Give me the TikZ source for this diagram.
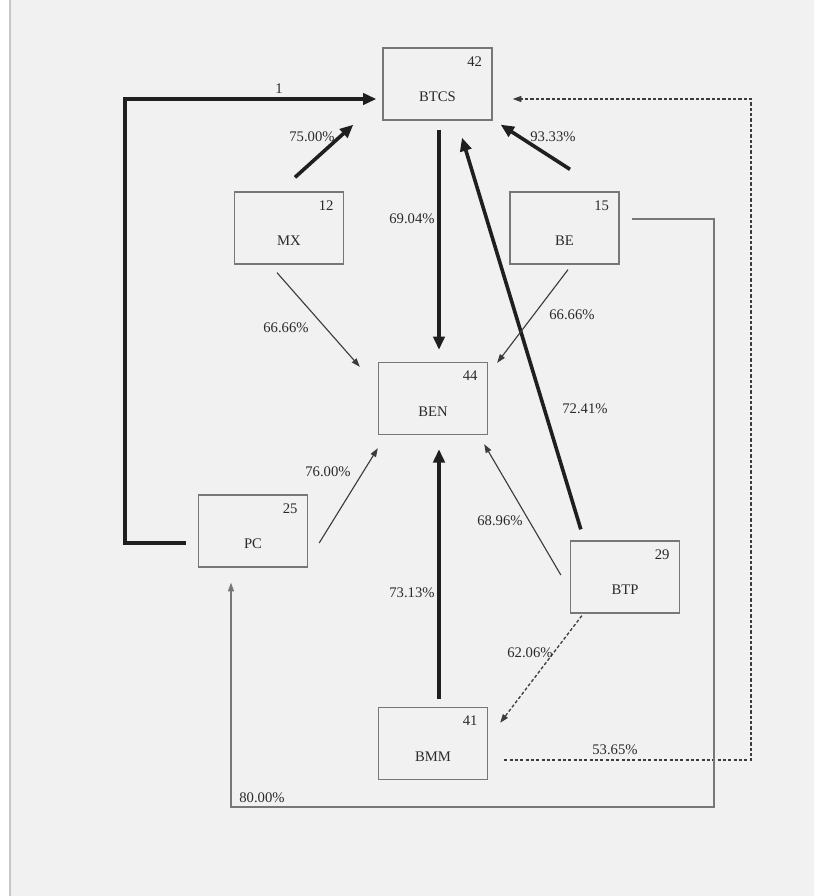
\documentclass[tikz,border=0pt]{standalone}
\usepackage{fontspec}
\setmainfont{Liberation Serif}
\usetikzlibrary{positioning,arrows.meta,calc}
\definecolor{pgpaper}{HTML}{F1F1F1}
\definecolor{pgink}{HTML}{2A2A2A}
\definecolor{pgframe}{HTML}{777777}
\definecolor{pgthin}{HTML}{3C3C3C}
\tikzset{
  sector/.style ={draw=pgframe, line width=1pt, minimum width=81.75pt,
                  minimum height=54pt, inner sep=0pt},
  tag/.style    ={font=\fontsize{11}{13}\selectfont, text=pgink, inner sep=0pt},
  pct/.style    ={tag},
  heavy/.style  ={-{Triangle[length=10pt,width=8.5pt]}, line width=2.7pt, draw=black!88},
  light/.style  ={-{Triangle[length=6.5pt,width=4.5pt]}, line width=0.85pt, draw=pgthin},
  faint/.style  ={light, line width=1pt, dash pattern=on 2.4pt off 1.6pt},
}
\newcommand{\flowbox}[4]{% name, centre, code, text
  \node[sector] (#1) at #2 {};
  \node[tag] (#1-c) at ($(#1.north east)+(-18,14)$) {#3};
  \node[tag] (#1-t) at ($(#1.center)+(0,13)$) {#4};}

\begin{document}
\begin{tikzpicture}[x=0.75pt, y=-0.75pt]
  \useasboundingbox (0,0) rectangle (814,896);
  \fill[white] (0,0) rectangle (814,896);
  \fill[pgpaper] (10,0) rectangle (814,896);
  \draw[black!22, line width=1.5pt] (10,0) -- (10,896);
  % boxes
  \flowbox{btcs}{(437.5,84)}{42}{BTCS}
  \flowbox{mx}{(289,228)}{12}{MX}
  \flowbox{be}{(564.5,228)}{15}{BE}
  \flowbox{ben}{(433,398.5)}{44}{BEN}
  \flowbox{pc}{(253,531)}{25}{PC}
  \flowbox{btp}{(625,577)}{29}{BTP}
  \flowbox{bmm}{(433,743.5)}{41}{BMM}
  % into BTCS
  \coordinate (lc) at (125,99);
  \draw[heavy] ($(pc.west)+(-12,12)$) -| (lc) -- ($(btcs.west)+(-6,15)$);
  \draw[heavy] ($(mx.north)+(6,-14)$) -- ($(btcs.south west)+(-29,4)$);
  \draw[heavy] ($(be.north)+(5.5,-22)$) -- ($(btcs.south east)+(8,4)$);
  \draw[heavy] ($(btp.north west)+(11,-11)$) -- ($(btcs.south)+(24.5,17)$);
  \coordinate (rc) at (751,99);
  \draw[faint] ($(bmm.east)+(16,16.5)$) -| (rc) -- ($(btcs.east)+(20,15)$);
  % into BEN
  \draw[heavy] ($(btcs.south)+(1.5,9)$) -- ($(ben.north)+(6,-12)$);
  \draw[heavy] ($(bmm.north)+(6,-8)$) -- ($(ben.south)+(6,14)$);
  \draw[light] ($(mx.south)+(-12,8)$) -- ($(ben.north west)+(-18,5)$);
  \draw[light] ($(be.south)+(3.5,5)$) -- ($(ben.north east)+(9,1)$);
  \draw[light] ($(pc.east)+(11,12)$) -- ($(ben.south west)+(0,13)$);
  \draw[light] ($(btp.west)+(-9,-2)$) -- ($(ben.south east)+(-4,9)$);
  % the rest
  \draw[faint] ($(btp.south west)+(12,2)$) -- ($(bmm.north east)+(12,16)$);
  \coordinate (bc) at (714,807);
  \draw[light, draw=pgframe] ($(be.east)+(12,-9)$) -| (bc) -| ($(pc.south)+(-22,15)$);
  % percentages
  \node[pct] (p1)  at (279,89)  {1};
  \node[pct] (p2)  at (312,137) {75.00\%};
  \node[pct] (p3)  at (553,137) {93.33\%};
  \node[pct] (p4)  at (412,219) {69.04\%};
  \node[pct] (p5)  at (286,328) {66.66\%};
  \node[pct] (p6)  at (572,315) {66.66\%};
  \node[pct] (p7)  at (585,409) {72.41\%};
  \node[pct] (p8)  at (328,472) {76.00\%};
  \node[pct] (p9)  at (500,521) {68.96\%};
  \node[pct] (p10) at (412,593) {73.13\%};
  \node[pct] (p11) at (530,653) {62.06\%};
  \node[pct] (p12) at (615,750) {53.65\%};
  \node[pct] (p13) at (262,798) {80.00\%};
\end{tikzpicture}
\end{document}
